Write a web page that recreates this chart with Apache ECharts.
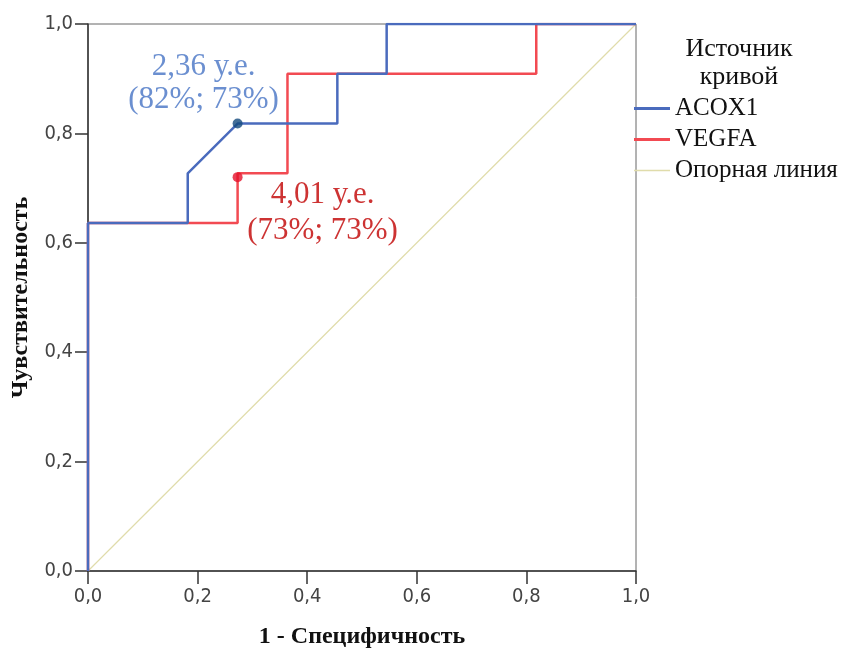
<!DOCTYPE html>
<html style="height: 100%">
<head>
    <meta charset="utf-8">
    <title>ROC</title>
</head>
<body style="height: 100%; margin: 0;">
<div id="container" style="width: 847px; height: 648px"></div>
<script src="https://cdn.jsdelivr.net/npm/echarts@6/dist/echarts.min.js"></script>
<script type="text/javascript">

    // ROC curves (1 - specificity, sensitivity)
    var acoxX = [0, 0, 0.182, 0.182, 0.273, 0.455, 0.455, 0.545, 0.545, 1];
    var acoxY = [0, 0.636, 0.636, 0.727, 0.818, 0.818, 0.909, 0.909, 1, 1];
    var vegfX = [0, 0, 0.273, 0.273, 0.364, 0.364, 0.818, 0.818, 1];
    var vegfY = [0, 0.636, 0.636, 0.727, 0.727, 0.909, 0.909, 1, 1];
    var refX = [0, 1];
    var refY = [0, 1];
    // cut-off points
    var acoxCut = [0.273, 0.818];
    var vegfCut = [0.273, 0.72];
    var acoxCutText = '2,36 у.е.\n(82%; 73%)';
    var vegfCutText = '4,01 у.е.\n(73%; 73%)';
    var seriesNames = ['ACOX1', 'VEGFA', 'Опорная линия'];

    function pairs(xs, ys) {
        var out = [];
        for (var i = 0; i < xs.length; i++) {
            out.push([xs[i], ys[i]]);
        }
        return out;
    }

    function comma(v) {
        return v.toFixed(1).replace('.', ',');
    }

    var font = 'Liberation Serif';
    var tickFont = '"Liberation Sans Narrow", "DejaVu Sans Condensed", sans-serif';
    var thick = 'path://M0,0H36V3H0Z';
    var thin = 'path://M0,0H36V1.5H0Z';
    var dom = document.getElementById("container");
    var myChart = echarts.init(dom);
    var option = {
        animation: false,
        backgroundColor: '#fff',
        title: {
            text: 'Источник\nкривой',
            left: 734,
            top: 30,
            textAlign: 'center',
            textStyle: {fontFamily: font, fontSize: 26, fontWeight: 'normal', color: '#111', lineHeight: 28}
        },
        legend: {
            data: [
                {name: seriesNames[0], icon: thick},
                {name: seriesNames[1], icon: thick},
                {name: seriesNames[2], icon: thin}
            ],
            orient: 'vertical',
            left: 634,
            top: 95,
            padding: 0,
            itemWidth: 36,
            itemHeight: 14,
            itemGap: 4,
            textStyle: {fontFamily: font, fontSize: 25, lineHeight: 27, color: '#111', padding: [0, 0, 0, 0]}
        },
        grid: {
            left: 88,
            right: 211,
            top: 24,
            bottom: 77,
            outerBoundsMode: 'none',
            containLabel: false,
            show: true,
            borderColor: '#666',
            borderWidth: 1
        },
        xAxis: {
            type: 'value',
            min: 0,
            max: 1,
            interval: 0.2,
            name: '1 - Специфичность',
            nameLocation: 'middle',
            nameGap: 54,
            nameTextStyle: {fontFamily: font, fontSize: 24, fontWeight: 'bold', color: '#111'},
            axisLine: {lineStyle: {color: '#333', width: 1.5}},
            axisTick: {show: true, length: 13, lineStyle: {color: '#333', width: 1.5}},
            axisLabel: {fontFamily: tickFont, fontSize: 20, color: '#444', margin: 16, formatter: comma},
            splitLine: {show: false}
        },
        yAxis: {
            type: 'value',
            min: 0,
            max: 1,
            interval: 0.2,
            name: 'Чувствительность',
            nameLocation: 'middle',
            nameGap: 55,
            nameTextStyle: {fontFamily: font, fontSize: 24, fontWeight: 'bold', color: '#111'},
            axisLine: {lineStyle: {color: '#333', width: 1.5}},
            axisTick: {show: true, length: 13, lineStyle: {color: '#333', width: 1.5}},
            axisLabel: {fontFamily: tickFont, fontSize: 20, color: '#444', margin: 15, formatter: comma},
            splitLine: {show: false}
        },
        series: [
            {
                name: 'Опорная линия',
                type: 'line',
                data: pairs(refX, refY),
                symbol: 'none',
                color: '#e0dcab',
                lineStyle: {width: 1.2, color: '#e0dcab'},
                z: 1
            },
            {
                name: 'VEGFA',
                type: 'line',
                data: pairs(vegfX, vegfY),
                symbol: 'none',
                color: '#f24a52',
                lineStyle: {width: 2.5, color: '#f24a52'},
                z: 2
            },
            {
                name: 'ACOX1',
                type: 'line',
                data: pairs(acoxX, acoxY),
                symbol: 'none',
                color: '#4a6bbd',
                lineStyle: {width: 2.5, color: '#4a6bbd'},
                z: 3
            },
            {
                name: 'cutA',
                type: 'scatter',
                data: [acoxCut],
                symbolSize: 10,
                itemStyle: {color: '#144a7d'},
                label: {
                    show: true,
                    position: 'top',
                    offset: [-34, 3],
                    formatter: acoxCutText,
                    fontFamily: font,
                    fontSize: 31,
                    lineHeight: 33,
                    color: '#4673c4'
                },
                z: 5
            },
            {
                name: 'cutV',
                type: 'scatter',
                data: [vegfCut],
                symbolSize: 10,
                itemStyle: {color: '#e5112b'},
                label: {
                    show: true,
                    position: 'bottom',
                    offset: [85, -10],
                    formatter: vegfCutText,
                    fontFamily: font,
                    fontSize: 31,
                    lineHeight: 36,
                    color: '#c00000'
                },
                z: 5
            }
        ]
    };
    myChart.setOption(option, true);

</script>
</body>
</html>
